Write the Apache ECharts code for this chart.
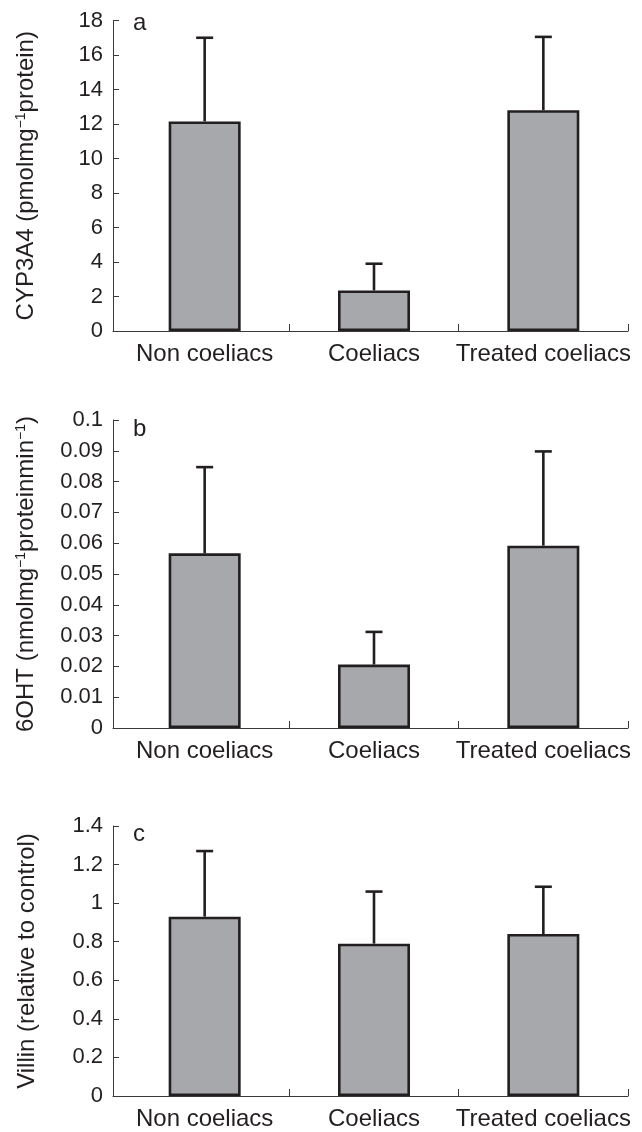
<!DOCTYPE html>
<html>
<head>
<meta charset="utf-8">
<script src="https://cdn.jsdelivr.net/npm/echarts@6/dist/echarts.min.js"></script>
<style>
html,body{margin:0;padding:0;background:#fff;}
#chart{width:642px;height:1132px;}
</style>
</head>
<body>
<div id="chart"></div>
<script>
var categories = ['Non coeliacs', 'Coeliacs', 'Treated coeliacs'];

var cypMean  = [12.15, 2.35, 12.8];
var cypUpper = [17.0, 3.9, 17.05];

var ohtMean  = [0.0567, 0.0206, 0.0592];
var ohtUpper = [0.0847, 0.0312, 0.0898];

var villinMean  = [0.93, 0.79, 0.84];
var villinUpper = [1.27, 1.06, 1.085];

var FONT = "'Liberation Sans', Arial, Helvetica, sans-serif";
var INK = '#231f20';
var AXIS = '#3a3a3a';

var panels = [
  {letter: 'a', name: 'CYP3A4 (pmolmg{sup|\u22121}protein)', min: 0, max: 18, interval: 2,
   mean: cypMean, upper: cypUpper, top: 20.5, bottom: 331, letterTop: 11.5},
  {letter: 'b', name: '6OHT (nmolmg{sup|\u22121}proteinmin{sup|\u22121})', min: 0, max: 0.1, interval: 0.01,
   mean: ohtMean, upper: ohtUpper, top: 420, bottom: 728, letterTop: 417.5},
  {letter: 'c', name: 'Villin (relative to control)', min: 0, max: 1.4, interval: 0.2,
   mean: villinMean, upper: villinUpper, top: 826, bottom: 1096, letterTop: 822.5}
];

var H = 1132;
var grid = [], xAxis = [], yAxis = [], series = [], title = [];

panels.forEach(function (p, i) {
  var ga = i * 2, gb = i * 2 + 1;
  grid.push({left: 113, width: 8, top: p.top, bottom: H - p.bottom});
  grid.push({left: 120, right: 14, top: p.top, bottom: H - p.bottom});

  xAxis.push({
    gridIndex: ga, type: 'value', min: 0, max: 1,
    axisLine: {show: true, lineStyle: {color: AXIS, width: 1}},
    axisTick: {show: false}, axisLabel: {show: false}, splitLine: {show: false}
  });
  xAxis.push({
    gridIndex: gb, type: 'category', data: categories, boundaryGap: true,
    axisLine: {show: true, lineStyle: {color: AXIS, width: 1}},
    axisTick: {show: true, inside: true, length: 7, lineStyle: {color: AXIS, width: 1},
               interval: function (idx) { return idx !== 0; }},
    axisLabel: {show: true, interval: 0, hideOverlap: false, color: INK, fontFamily: FONT, fontSize: 24, margin: 11},
    splitLine: {show: false}
  });

  yAxis.push({
    gridIndex: ga, type: 'value', min: p.min, max: p.max, interval: p.interval,
    axisLine: {show: true, lineStyle: {color: AXIS, width: 1}},
    axisTick: {show: true, inside: true, length: 6, lineStyle: {color: AXIS, width: 1}},
    axisLabel: {show: true, color: INK, fontFamily: FONT, fontSize: 22, margin: 10},
    splitLine: {show: false},
    name: p.name, nameLocation: 'middle', nameGap: 74, nameRotate: 90,
    nameTextStyle: {
      color: INK, fontFamily: FONT, fontSize: 24,
      rich: {sup: {color: INK, fontFamily: FONT, fontSize: 14, padding: [0, 0, 11, 0]}}
    }
  });
  yAxis.push({
    gridIndex: gb, type: 'value', min: p.min, max: p.max, interval: p.interval, show: false
  });

  series.push({
    type: 'bar', xAxisIndex: gb, yAxisIndex: gb, data: p.mean, barWidth: 72,
    itemStyle: {color: '#a7a8ac', borderColor: '#231f20', borderWidth: 2.6},
    emphasis: {disabled: true}, silent: true, z: 2
  });
  series.push({
    type: 'custom', xAxisIndex: gb, yAxisIndex: gb, silent: true, z: 3,
    data: p.mean.map(function (m, k) { return [k, m, p.upper[k]]; }),
    renderItem: function (params, api) {
      var x = api.value(0);
      var p0 = api.coord([x, api.value(1)]);
      var p1 = api.coord([x, api.value(2)]);
      var half = 8.5;
      var st = {stroke: '#231f20', lineWidth: 2.6};
      return {
        type: 'group',
        children: [
          {type: 'line', shape: {x1: p0[0], y1: p0[1], x2: p1[0], y2: p1[1]}, style: st},
          {type: 'line', shape: {x1: p1[0] - half, y1: p1[1], x2: p1[0] + half, y2: p1[1]}, style: st}
        ]
      };
    }
  });

  title.push({
    text: p.letter, left: 133, top: p.letterTop, padding: 0,
    textStyle: {color: INK, fontFamily: FONT, fontSize: 24, fontWeight: 'normal'}
  });
});

var chart = echarts.init(document.getElementById('chart'), null, {renderer: 'canvas'});
chart.setOption({
  backgroundColor: '#ffffff',
  animation: false,
  title: title,
  grid: grid,
  xAxis: xAxis,
  yAxis: yAxis,
  series: series
});
</script>
</body>
</html>
